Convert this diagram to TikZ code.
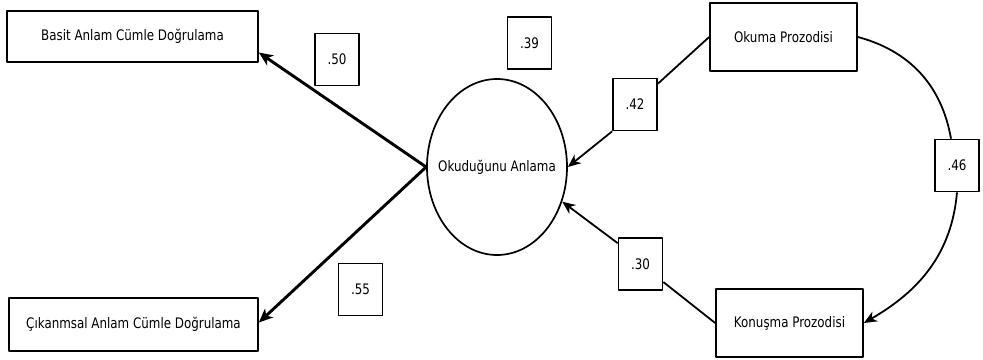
\documentclass[tikz,border=0pt]{standalone}
\usepackage{fontspec}
\setmainfont[FakeStretch=0.82]{DejaVu Sans}
\usepackage{tikz}
\usetikzlibrary{shapes.geometric,arrows.meta}

\begin{document}
\begin{tikzpicture}[x=1pt, y=-1pt, line join=bevel,
  box/.style={draw, line width=1.7pt, inner sep=0pt, font=\fontsize{14.5}{17}\selectfont},
  coef/.style={box, minimum width=44pt, minimum height=52pt},
  big/.style={-{Stealth[length=14pt,width=12pt,inset=4pt]}, line width=2.9pt},
  path/.style={-{Stealth[length=13pt,width=11pt,inset=4pt]}, line width=1.8pt}]

\useasboundingbox (0,0) rectangle (983,359);

\node[box, minimum width=251pt, minimum height=51pt] (basit) at (132.5,36.5) {Basit Anlam Cümle Doğrulama};
\node[box, minimum width=249pt, minimum height=53pt] (cikan) at (133.5,324.5) {Çıkanmsal Anlam Cümle Doğrulama};
\node[box, ellipse, minimum width=140pt, minimum height=176pt] (oa) at (497,167) {\makebox[0pt]{Okuduğunu Anlama}};
\node[box, minimum width=147pt, minimum height=68pt] (okuma) at (783.5,37) {Okuma Prozodisi};
\node[box, minimum width=147pt, minimum height=68pt] (konusma) at (789.5,323) {Konuşma Prozodisi};

\node[coef] (r50) at (337,59.5) {.50};
\node[coef] (r55) at (360.5,289.5) {.55};
\node[coef] (r39) at (529.5,43) {.39};
\node[coef] (r42) at (635,104.5) {.42};
\node[coef] (r30) at (640.5,264) {.30};
\node[coef] (r46) at (957,165.5) {.46};

\draw[big] (oa.west) -- ([yshift=-16pt]basit.east);
\draw[big] (oa.west) -- ([yshift=2pt]cikan.east);

\draw[line width=1.8pt] (okuma.west) -- (r42);
\draw[path] (r42.south west) -- (oa.east);
\draw[line width=1.8pt] (konusma.west) -- (r30);
\draw[path] ([yshift=-6pt]r30.north west) -- (oa.-28);

\draw[line width=1.8pt] (okuma.east) to[out=-15, in=100] ([xshift=-6pt]r46.north);
\draw[path] (r46.south) to[out=-95, in=30] (konusma.east);

\end{tikzpicture}
\end{document}
